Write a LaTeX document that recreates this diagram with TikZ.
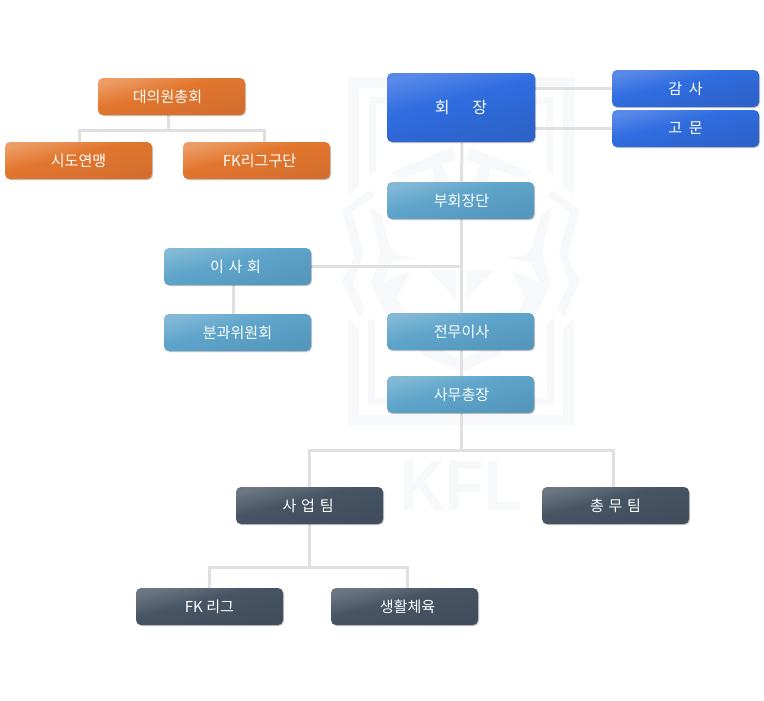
\documentclass[tikz,border=0pt]{standalone}
\usepackage{fontspec}
\setmainfont{Noto Sans CJK KR}
\newfontfamily\logofont{Liberation Sans}
\usepackage{xcolor}
\usetikzlibrary{arrows.meta,positioning,calc,backgrounds,shadows}
\definecolor{linkgray}{RGB}{224,224,224}
\definecolor{markgray}{RGB}{247,248,250}
\definecolor{blue1}{RGB}{88,136,232}
\definecolor{blue2}{RGB}{47,109,224}
\definecolor{blue3}{RGB}{45,98,200}
\definecolor{orange1}{RGB}{236,156,100}
\definecolor{orange2}{RGB}{226,118,46}
\definecolor{orange3}{RGB}{212,110,46}
\definecolor{teal1}{RGB}{130,184,214}
\definecolor{teal2}{RGB}{95,165,203}
\definecolor{teal3}{RGB}{84,150,188}
\definecolor{slate1}{RGB}{108,118,130}
\definecolor{slate2}{RGB}{70,84,99}
\definecolor{slate3}{RGB}{64,77,92}
\pgfdeclareverticalshading{orgblue}{100bp}{color(0bp)=(blue3); color(25bp)=(blue3); color(56bp)=(blue2); color(75bp)=(blue1); color(100bp)=(blue1)}
\pgfdeclareverticalshading{orgorange}{100bp}{color(0bp)=(orange3); color(25bp)=(orange3); color(56bp)=(orange2); color(75bp)=(orange1); color(100bp)=(orange1)}
\pgfdeclareverticalshading{orgteal}{100bp}{color(0bp)=(teal3); color(25bp)=(teal3); color(56bp)=(teal2); color(75bp)=(teal1); color(100bp)=(teal1)}
\pgfdeclareverticalshading{orgslate}{100bp}{color(0bp)=(slate3); color(25bp)=(slate3); color(56bp)=(slate2); color(75bp)=(slate1); color(100bp)=(slate1)}
\tikzset{
  orgbox/.style={rectangle,rounded corners=3.75pt,minimum width=110.25pt,minimum height=27.75pt,inner sep=0pt,
    text=white,font=\fontsize{11.3}{13}\selectfont,
    drop shadow={shadow xshift=1pt,shadow yshift=-1pt,opacity=0.1,fill=black},
    drop shadow={shadow xshift=0.4pt,shadow yshift=-0.5pt,opacity=0.22,fill=black}},
  shadeblue/.style={orgbox,shade,shading=orgblue,shading angle=14},
  shadeorange/.style={orgbox,shade,shading=orgorange,shading angle=14},
  shadeteal/.style={orgbox,shade,shading=orgteal,shading angle=14},
  shadeslate/.style={orgbox,shade,shading=orgslate,shading angle=14},
  link/.style={line width=2.25pt,draw=linkgray},
  markfill/.style={fill=markgray,draw=none}
}
\begin{document}
\begin{tikzpicture}[x=0.75pt,y=-0.75pt]
  \useasboundingbox (0,0) rectangle (764,700);
  % left column
  \node[shadeorange] (assembly) at (171.5,96.5) {\kern-6pt 대의원총회};
  \node[shadeorange] (federations) at (78.5,160.5) {시도연맹};
  \node[shadeorange] (clubs) at (256.5,160.5) {\kern4.5pt FK리그구단};
  \node[shadeteal] (board) at (237.5,266.5) {\kern-3pt 이\hspace{3.5pt}사\hspace{3.5pt}회};
  \node[shadeteal] (committee) at (237.5,332.5) {분과위원회};
  % centre column
  \node[shadeblue,minimum width=111pt,minimum height=51.75pt,font=\fontsize{12}{14}\selectfont] (president) at (461,107.5) {회\hspace{17pt}장};
  \node[shadeblue] (auditor) at (685.5,88.5) {감\hspace{5pt}사};
  \node[shadeblue] (adviser) at (685.5,128.5) {고\hspace{5pt}문};
  \node[shadeteal] (vicepres) at (460.5,200.5) {\kern1.5pt 부회장단};
  \node[shadeteal] (execdir) at (460.5,331.5) {\kern1.5pt 전무이사};
  \node[shadeteal] (secgen) at (460.5,394.5) {\kern1.5pt 사무총장};
  % teams
  \node[shadeslate] (bizteam) at (309.5,505.5) {\kern-2pt 사\hspace{3.5pt}업\hspace{3.5pt}팀};
  \node[shadeslate] (adminteam) at (615.5,505.5) {총\hspace{3.5pt}무\hspace{3.5pt}팀};
  \node[shadeslate] (league) at (209.5,606.5) {FK 리그};
  \node[shadeslate] (sports) at (404.5,606.5) {\kern4.5pt 생활체육};
  \begin{scope}[on background layer]
    % watermark
    \foreach \sgn in {1,-1}{
      \begin{scope}[shift={(461,0)},xscale=\sgn]
        \fill[markfill] (-113,77)--(0,77)--(0,88)--(-102,88)--(-102,185)--(-113,196)--cycle;
        \fill[markfill] (-113,318)--(-102,330)--(-102,415)--(0,415)--(0,425)--(-113,425)--cycle;
        \fill[markfill] (-92,97)--(0,97)--(0,104)--(-85,104)--(-85,170)--(-92,176)--cycle;
        \fill[markfill] (-93,318)--(-86,322)--(-86,398)--(0,398)--(0,405)--(-93,405)--cycle;
        \fill[markfill] (-91,190)--(-119,210)--(-106,257)--(-119,280)--(-103,317)--(-96,310)--(-108,283)--(-98,253)--(-109,212)--(-86,196)--cycle;
        \fill[markfill] (-91,207)--(-81,253)--(-90,283)--(-72,320)--(-65,310)--(-78,283)--(-68,258)--(-80,215)--cycle;
        \fill[markfill] (-71,173)--(-9,147)--(-5,160)--(-60,178)--cycle;
        \fill[markfill] (-83,222)--(-66,255)--(-43,258)--(-73,262)--cycle;
        \fill[markfill] (-29,167)--(-19,165)--(-11,182)--(-25,195)--cycle;
        \fill[markfill] (-85,285)--(-50,270)--(-65,300)--(-60,315)--cycle;
        \fill[markfill] (-33,270)--(-5,270)--(-5,300)--(-20,283)--cycle;
        \fill[markfill] (-68,292)--(-72,300)--(-62,318)--(-38,355)--(0,372)--(0,360)--(-30,345)--(-55,315)--cycle;
      \end{scope}
    }
    \node[text=markgray,font=\logofont\bfseries\fontsize{54}{54}\selectfont,inner sep=0pt,xscale=0.87] (marktext) at (461.5,486) {KFL};
    % connectors
    \coordinate (assemblybus) at (168.5,130.5);
    \coordinate (fedtap) at (79.5,142);
    \coordinate (clubtap) at (264.5,142);
    \draw[link] (assemblybus |- assembly.south) -- (assemblybus);
    \draw[link] (fedtap) |- (assemblybus) -| (clubtap);
    \foreach \up/\down in {president/vicepres,vicepres/execdir,execdir/secgen}{
      \draw[link] ([xshift=0.75pt]\up.south) -- ([xshift=0.75pt]\down.north);
    }
    \draw[link] (auditor.west) -- (auditor.west -| president.east);
    \draw[link] (adviser.west) -- (adviser.west -| president.east);
    \coordinate (mainbus) at (461.5,450);
    \coordinate (boardtap) at (233.5,285);
    \draw[link] (board.east) -- (board.east -| mainbus);
    \draw[link] (boardtap) -- (boardtap |- committee.north);
    \draw[link] (secgen.south -| mainbus) -- (mainbus);
    \coordinate (adminin) at (613.5,487);
    \draw[link] (bizteam.north) |- (mainbus) -| (adminin);
    \coordinate (bizbus) at (309.5,567);
    \coordinate (sportsin) at (407.5,588);
    \draw[link] (bizteam.south) -- (bizbus);
    \draw[link] (league.north) |- (bizbus) -| (sportsin);
  \end{scope}
\end{tikzpicture}
\end{document}
